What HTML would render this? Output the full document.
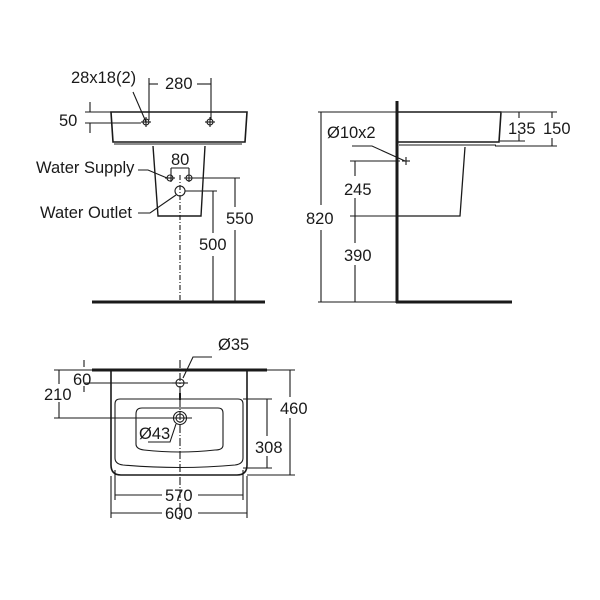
<!DOCTYPE html>
<html><head><meta charset="utf-8"><style>
html,body{margin:0;padding:0;background:#fff}
svg{display:block}
text{font-family:"Liberation Sans",Arial,sans-serif;font-size:16.5px;fill:#1a1a1a}
</style></head><body>
<svg width="600" height="600" viewBox="0 0 600 600" xmlns="http://www.w3.org/2000/svg">
<g stroke="#1a1a1a" fill="none" stroke-width="1.1">
<path d="M111,112 L247,112 L245,142 L113,142 Z" stroke-width="1.6"/>
<line x1="114" y1="144" x2="242" y2="144"/>
<path d="M153,146 L158,216 L201,216 L205,146" stroke-width="1.4"/>
<circle cx="146" cy="122" r="3"/><line x1="141" y1="122" x2="151" y2="122"/><line x1="146" y1="117" x2="146" y2="127"/>
<circle cx="210" cy="122" r="3"/><line x1="205" y1="122" x2="215" y2="122"/><line x1="210" y1="117" x2="210" y2="127"/>
<line x1="149" y1="78" x2="149" y2="120"/><line x1="211" y1="78" x2="211" y2="120"/>
<line x1="149" y1="84" x2="158" y2="84"/><line x1="197" y1="84" x2="211" y2="84"/>
<line x1="133" y1="92" x2="146" y2="122"/>
<line x1="85" y1="112" x2="111" y2="112"/><line x1="85" y1="123" x2="141" y2="123"/>
<line x1="90" y1="102" x2="90" y2="112"/><line x1="90" y1="123" x2="90" y2="133"/>
<circle cx="170" cy="178" r="3"/><line x1="165" y1="178" x2="175" y2="178"/>
<circle cx="189" cy="178" r="3"/><line x1="184" y1="178" x2="240" y2="178"/>
<line x1="171" y1="168" x2="171" y2="182"/><line x1="189" y1="168" x2="189" y2="182"/>
<line x1="171" y1="168" x2="189" y2="168"/>
<circle cx="180" cy="191" r="5"/><line x1="185" y1="191" x2="217" y2="191"/>
<path d="M138,170 L148,170 L167,178"/>
<path d="M138,213 L150,213 L176,195"/>
<line x1="180" y1="175" x2="180" y2="302" stroke-dasharray="5,2,1,2"/>
<line x1="235" y1="178" x2="235" y2="207"/><line x1="235" y1="230" x2="235" y2="302"/>
<line x1="213" y1="191" x2="213" y2="233"/><line x1="213" y1="256" x2="213" y2="302"/>
<line x1="92" y1="302" x2="265" y2="302" stroke-width="3"/>
<line x1="397" y1="101" x2="397" y2="303" stroke-width="3"/>
<line x1="396" y1="302" x2="512" y2="302" stroke-width="3"/>
<path d="M397,112 L501,112 L499,142 L397,142" stroke-width="1.6"/>
<line x1="399" y1="145" x2="496" y2="145"/>
<path d="M465,147 L460,216 L397,216" stroke-width="1.3"/>
<line x1="502" y1="112" x2="557" y2="112"/><line x1="500" y1="141" x2="525" y2="141"/><line x1="495" y1="146" x2="557" y2="146"/>
<line x1="519" y1="112" x2="519" y2="118"/><line x1="519" y1="134" x2="519" y2="141"/>
<line x1="552" y1="112" x2="552" y2="118"/><line x1="552" y1="138" x2="552" y2="146"/>
<line x1="318" y1="112" x2="397" y2="112"/><line x1="318" y1="302" x2="397" y2="302"/>
<line x1="321" y1="112" x2="321" y2="205"/><line x1="321" y1="230" x2="321" y2="302"/>
<path d="M352,146 L372,146 L405,161"/>
<line x1="402" y1="161" x2="410" y2="161"/><line x1="406" y1="157" x2="406" y2="165"/>
<line x1="350" y1="161" x2="400" y2="161"/><line x1="350" y1="216" x2="397" y2="216"/>
<line x1="355" y1="161" x2="355" y2="176"/><line x1="355" y1="198" x2="355" y2="243"/><line x1="355" y1="265" x2="355" y2="302"/>
<line x1="92" y1="370" x2="267" y2="370" stroke-width="3"/>
<path d="M111,370 L111,465 Q111,475 121,475 L237,475 Q247,475 247,465 L247,370" stroke-width="1.6"/>
<path d="M120,399 L238,399 Q243,399 243,404 L243,458 Q243,464 235,465 Q180,470 123,465 Q115,464 115,458 L115,404 Q115,399 120,399 Z"/>
<path d="M142,408 L218,408 Q223,408 223,413 L223,445 Q223,450 215,450 Q180,454 144,450 Q136,449 136,444 L136,414 Q136,408 142,408 Z"/>
<circle cx="180" cy="383" r="4"/><line x1="172" y1="383" x2="188" y2="383"/>
<line x1="180" y1="393" x2="180" y2="400" stroke-width="2"/>
<circle cx="180" cy="418" r="6.5"/><circle cx="180" cy="418" r="4"/>
<line x1="168" y1="418" x2="192" y2="418"/>
<line x1="180" y1="360" x2="180" y2="520" stroke-dasharray="8,2,1,2"/>
<path d="M212,357 L193,357 L183,378"/>
<path d="M148,442 L170,442 L176,424"/>
<line x1="84" y1="360" x2="84" y2="367"/><line x1="84" y1="386" x2="84" y2="392"/>
<line x1="70" y1="370" x2="111" y2="370"/><line x1="85" y1="383" x2="172" y2="383"/>
<line x1="54" y1="370" x2="92" y2="370"/><line x1="54" y1="418" x2="172" y2="418"/>
<line x1="59" y1="370" x2="59" y2="384"/><line x1="59" y1="402" x2="59" y2="418"/>
<line x1="247" y1="370" x2="295" y2="370"/><line x1="247" y1="475" x2="295" y2="475"/>
<line x1="290" y1="370" x2="290" y2="397"/><line x1="290" y1="418" x2="290" y2="475"/>
<line x1="243" y1="399" x2="272" y2="399"/><line x1="243" y1="468" x2="272" y2="468"/>
<line x1="267" y1="399" x2="267" y2="436"/><line x1="267" y1="456" x2="267" y2="468"/>
<line x1="115" y1="470" x2="115" y2="500"/><line x1="243" y1="470" x2="243" y2="500"/>
<line x1="111" y1="476" x2="111" y2="518"/><line x1="247" y1="476" x2="247" y2="518"/>
<line x1="115" y1="495" x2="162" y2="495"/><line x1="198" y1="495" x2="243" y2="495"/>
<line x1="111" y1="513" x2="162" y2="513"/><line x1="198" y1="513" x2="247" y2="513"/>
</g>
<text x="71" y="83">28x18(2)</text>
<text x="165" y="89">280</text>
<text x="59" y="126">50</text>
<text x="36" y="173">Water Supply</text>
<text x="171" y="165">80</text>
<text x="40" y="218">Water Outlet</text>
<text x="226" y="224">550</text>
<text x="199" y="250">500</text>
<text x="508" y="134">135</text>
<text x="543" y="134">150</text>
<text x="327" y="138">Ø10x2</text>
<text x="306" y="224">820</text>
<text x="344" y="195">245</text>
<text x="344" y="261">390</text>
<text x="218" y="350">Ø35</text>
<text x="73" y="385">60</text>
<text x="44" y="400">210</text>
<text x="139" y="439">Ø43</text>
<text x="280" y="414">460</text>
<text x="255" y="453">308</text>
<text x="165" y="501">570</text>
<text x="165" y="519">600</text>
</svg>
</body></html>
